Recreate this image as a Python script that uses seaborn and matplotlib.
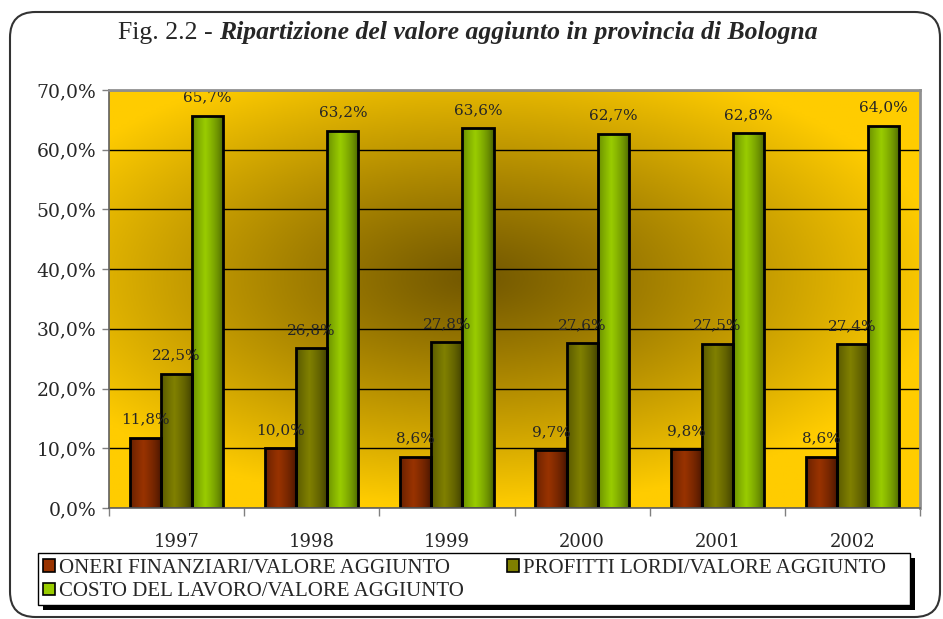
import numpy as np
import pandas as pd
import matplotlib
matplotlib.use("Agg")
import matplotlib.pyplot as plt
import seaborn as sns
from matplotlib.patches import Patch, Rectangle, FancyBboxPatch
from matplotlib.colors import to_rgb
from matplotlib.ticker import FuncFormatter, FixedLocator

# dati
anni = ['1997', '1998', '1999', '2000', '2001', '2002']
oneri = [11.8, 10.0, 8.6, 9.7, 9.8, 8.6]
profitti = [22.5, 26.8, 27.8, 27.6, 27.5, 27.4]
costo = [65.7, 63.2, 63.6, 62.7, 62.8, 64.0]
serie = ['ONERI FINANZIARI/VALORE AGGIUNTO',
         'PROFITTI LORDI/VALORE AGGIUNTO',
         'COSTO DEL LAVORO/VALORE AGGIUNTO']
colori = ['#993300', '#808000', '#99cc00']
colori_scuri = ['#3a1000', '#343400', '#3f5500']

df = pd.DataFrame({
    'anno': anni * 3,
    'valore': oneri + profitti + costo,
    'serie': [serie[0]] * 6 + [serie[1]] * 6 + [serie[2]] * 6,
})

sns.set_theme(style='white')
plt.rcParams['font.family'] = ['DejaVu Serif', 'Liberation Serif']

W, H = 943, 619
fig = plt.figure(figsize=(W / 100, H / 100), dpi=100)
ax = fig.add_axes([109 / W, 1 - 508 / H, (920 - 109) / W, (508 - 90) / H])

# sfondo con sfumatura radiale
nx, ny = 300, 200
xx, yy = np.meshgrid(np.linspace(0, 1, nx), np.linspace(0, 1, ny))
r = np.sqrt(((xx - 0.45) / 0.58) ** 2 + ((yy - 0.55) / 0.55) ** 2)
t = np.clip(r, 0, 1) ** 1.1
giallo = np.array(to_rgb('#ffcc00'))
scuro = np.array(to_rgb('#735800'))
bg = scuro[None, None, :] * (1 - t[..., None]) + giallo[None, None, :] * t[..., None]
ax.imshow(bg, extent=(-0.5, 5.5, 0, 70), origin='lower', aspect='auto', zorder=0)

sns.barplot(data=df, x='anno', y='valore', hue='serie', palette=colori,
            width=0.69, gap=0, edgecolor='black', linewidth=2, ax=ax,
            legend=False, zorder=3)

# sfumatura orizzontale sulle barre
u = np.linspace(0, 1, 64)
w = np.clip(1 - np.abs(u - 0.42) / 0.58, 0, 1) ** 0.6
for cont, c, cs in zip(ax.containers, colori, colori_scuri):
    c1 = np.array(to_rgb(c))
    c0 = np.array(to_rgb(cs))
    grad = (c0[None, :] * (1 - w[:, None]) + c1[None, :] * w[:, None])[None, :, :]
    for bar in cont:
        x0, y0 = bar.get_x(), bar.get_y()
        bw, bh = bar.get_width(), bar.get_height()
        im = ax.imshow(grad, extent=(x0, x0 + bw, y0, y0 + bh), aspect='auto',
                       zorder=2.9)
        im.set_clip_path(bar)
        bar.set_facecolor('none')
        ax.annotate(f'{bh:.1f}%'.replace('.', ','), (x0 + bw / 2, y0 + bh),
                    xytext=(0, 8), textcoords='offset points',
                    ha='center', va='bottom', fontsize=11, zorder=5)

ax.set_xlim(-0.5, 5.5)
ax.set_ylim(0, 70)
ax.set_yticks(np.arange(0, 71, 10))
ax.yaxis.set_major_formatter(FuncFormatter(lambda v, p: f'{v:.1f}%'.replace('.', ',')))
ax.grid(axis='y', color='black', linewidth=1)
ax.set_axisbelow(True)
ax.set_xlabel('')
ax.set_ylabel('')
ax.tick_params(axis='y', direction='out', length=5, width=1, color='#808080',
               labelsize=13.5, pad=4, left=True)
ax.tick_params(axis='x', which='major', length=0, labelsize=13, pad=18)
ax.xaxis.set_minor_locator(FixedLocator(np.arange(-0.5, 6, 1)))
ax.tick_params(axis='x', which='minor', direction='out', length=6, width=1,
               color='#808080', bottom=True)
for s in ax.spines.values():
    s.set_color('#909090')
    s.set_linewidth(2)
    s.set_zorder(6)
ax.spines['left'].set_linewidth(1.2)
ax.spines['left'].set_color('#606060')
ax.spines['bottom'].set_linewidth(1.2)
ax.spines['bottom'].set_color('#606060')

# cornice esterna arrotondata
cornice = FancyBboxPatch((10 / W, 1 - 617 / H), 930 / W, 605 / H,
                         boxstyle='round,pad=0,rounding_size=0.027',
                         mutation_aspect=W / H, transform=fig.transFigure,
                         facecolor='none', edgecolor='#333333', linewidth=1.5)
fig.patches.append(cornice)

# titolo
t1 = fig.text(118 / W, 1 - 33 / H, 'Fig. 2.2 - ', fontsize=18.5, va='center', ha='left',
              family='Liberation Serif')
fig.canvas.draw()
bb = t1.get_window_extent(fig.canvas.get_renderer())
fig.text(bb.x1 / W, 1 - 33 / H, 'Ripartizione del valore aggiunto in provincia di Bologna',
         fontsize=18.5, fontweight='bold', fontstyle='italic', va='center', ha='left',
         family='Liberation Serif')

# legenda con ombra
fig.patches.append(Rectangle((43 / W, 1 - 610 / H), 872 / W, 52 / H,
                             transform=fig.transFigure, facecolor='black',
                             edgecolor='none', zorder=1))
fig.patches.append(Rectangle((38 / W, 1 - 605 / H), 872 / W, 52 / H,
                             transform=fig.transFigure, facecolor='white',
                             edgecolor='black', linewidth=1, zorder=2))
handles = [Patch(facecolor=c, edgecolor='black', linewidth=1.2) for c in colori]
ordine = [0, 2, 1]
leg = fig.legend([handles[i] for i in ordine], [serie[i] for i in ordine],
                 loc='upper left', bbox_to_anchor=(41 / W, 1 - 557 / H), ncol=2,
                 frameon=False, prop={'family': 'Liberation Serif', 'size': 15},
                 handlelength=0.55, handleheight=0.55,
                 handletextpad=0.2, columnspacing=2.1, labelspacing=0.2,
                 borderaxespad=0, borderpad=0.1)
leg.set_zorder(3)

fig.savefig('out.png', dpi=100)
